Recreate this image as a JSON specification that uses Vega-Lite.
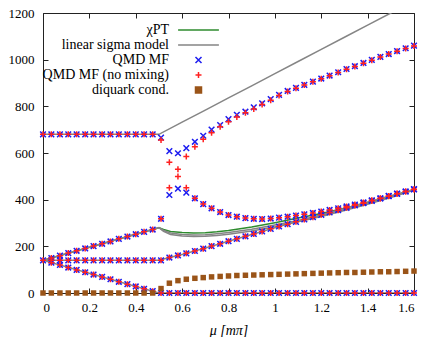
{
"$schema": "https://vega.github.io/schema/vega-lite/v6.json",
"width": 371, "height": 280,
"autosize": "none",
"padding": {"left": 43, "top": 13, "right": 12, "bottom": 44},
"config": {
  "view": {"stroke": "#222", "strokeWidth": 1},
  "font": "Liberation Serif, Times New Roman, serif",
  "axis": {"grid": false, "domain": false, "tickColor": "#222", "tickSize": -5, "tickWidth": 1, "labelFont": "Liberation Serif, Times New Roman, serif", "labelFontSize": 13, "labelColor": "#000", "titleFont": "Liberation Serif, Times New Roman, serif", "titleColor": "#000", "titleFontWeight": "normal"},
  "legend": {"labelFont": "Liberation Serif, Times New Roman, serif"}
},
"datasets": {
  "lsm": [
    {"s":"linear sigma model","b":"t","mu":0,"v":680},{"s":"linear sigma model","b":"t","mu":0.5,"v":680},{"s":"linear sigma model","b":"t","mu":0.6,"v":732},{"s":"linear sigma model","b":"t","mu":0.7,"v":784},{"s":"linear sigma model","b":"t","mu":0.8,"v":836},{"s":"linear sigma model","b":"t","mu":0.9,"v":888},{"s":"linear sigma model","b":"t","mu":1.0,"v":940},{"s":"linear sigma model","b":"t","mu":1.1,"v":992},{"s":"linear sigma model","b":"t","mu":1.2,"v":1044},{"s":"linear sigma model","b":"t","mu":1.3,"v":1096},{"s":"linear sigma model","b":"t","mu":1.4,"v":1148},{"s":"linear sigma model","b":"t","mu":1.5,"v":1200},{"s":"linear sigma model","b":"t","mu":1.6,"v":1252},
    {"s":"linear sigma model","b":"m","mu":0,"v":140},{"s":"linear sigma model","b":"m","mu":0.5,"v":140},{"s":"linear sigma model","b":"m","mu":0.55,"v":153},{"s":"linear sigma model","b":"m","mu":0.6,"v":165},{"s":"linear sigma model","b":"m","mu":0.65,"v":179},{"s":"linear sigma model","b":"m","mu":0.7,"v":193},{"s":"linear sigma model","b":"m","mu":0.8,"v":222},{"s":"linear sigma model","b":"m","mu":0.9,"v":251},{"s":"linear sigma model","b":"m","mu":1.0,"v":280},{"s":"linear sigma model","b":"m","mu":1.1,"v":308},{"s":"linear sigma model","b":"m","mu":1.2,"v":335},{"s":"linear sigma model","b":"m","mu":1.3,"v":362},{"s":"linear sigma model","b":"m","mu":1.4,"v":390},{"s":"linear sigma model","b":"m","mu":1.5,"v":417},{"s":"linear sigma model","b":"m","mu":1.6,"v":444},
    {"s":"linear sigma model","b":"r1","mu":0,"v":140},{"s":"linear sigma model","b":"r1","mu":0.5,"v":280},{"s":"linear sigma model","b":"r1","mu":0.52,"v":268},{"s":"linear sigma model","b":"r1","mu":0.55,"v":257},{"s":"linear sigma model","b":"r1","mu":0.6,"v":251},{"s":"linear sigma model","b":"r1","mu":0.65,"v":249},{"s":"linear sigma model","b":"r1","mu":0.7,"v":250},{"s":"linear sigma model","b":"r1","mu":0.75,"v":254},{"s":"linear sigma model","b":"r1","mu":0.8,"v":259},{"s":"linear sigma model","b":"r1","mu":0.9,"v":273},{"s":"linear sigma model","b":"r1","mu":1.0,"v":291},{"s":"linear sigma model","b":"r1","mu":1.1,"v":311},{"s":"linear sigma model","b":"r1","mu":1.2,"v":333},{"s":"linear sigma model","b":"r1","mu":1.3,"v":357},{"s":"linear sigma model","b":"r1","mu":1.4,"v":383},{"s":"linear sigma model","b":"r1","mu":1.5,"v":412},{"s":"linear sigma model","b":"r1","mu":1.6,"v":443},
    {"s":"linear sigma model","b":"r2","mu":0.5,"v":280},{"s":"linear sigma model","b":"r2","mu":0.52,"v":264},{"s":"linear sigma model","b":"r2","mu":0.55,"v":251},{"s":"linear sigma model","b":"r2","mu":0.6,"v":244},{"s":"linear sigma model","b":"r2","mu":0.65,"v":242},{"s":"linear sigma model","b":"r2","mu":0.7,"v":243},{"s":"linear sigma model","b":"r2","mu":0.75,"v":246},{"s":"linear sigma model","b":"r2","mu":0.8,"v":252},{"s":"linear sigma model","b":"r2","mu":0.9,"v":266},{"s":"linear sigma model","b":"r2","mu":1.0,"v":284},{"s":"linear sigma model","b":"r2","mu":1.1,"v":305},{"s":"linear sigma model","b":"r2","mu":1.2,"v":328},{"s":"linear sigma model","b":"r2","mu":1.3,"v":353},{"s":"linear sigma model","b":"r2","mu":1.4,"v":380},{"s":"linear sigma model","b":"r2","mu":1.5,"v":409},{"s":"linear sigma model","b":"r2","mu":1.6,"v":441},
    {"s":"linear sigma model","b":"f","mu":0,"v":140},{"s":"linear sigma model","b":"f","mu":0.5,"v":0},{"s":"linear sigma model","b":"f","mu":1.6,"v":0}
  ],
  "chpt": [
    {"s":"χPT","b":"r","mu":0,"v":140},{"s":"χPT","b":"r","mu":0.5,"v":280},{"s":"χPT","b":"r","mu":0.52,"v":272},{"s":"χPT","b":"r","mu":0.55,"v":264},{"s":"χPT","b":"r","mu":0.6,"v":259},{"s":"χPT","b":"r","mu":0.65,"v":257},{"s":"χPT","b":"r","mu":0.7,"v":258},{"s":"χPT","b":"r","mu":0.75,"v":262},{"s":"χPT","b":"r","mu":0.8,"v":268},{"s":"χPT","b":"r","mu":0.9,"v":283},{"s":"χPT","b":"r","mu":1.0,"v":301},{"s":"χPT","b":"r","mu":1.1,"v":321},{"s":"χPT","b":"r","mu":1.2,"v":341},{"s":"χPT","b":"r","mu":1.3,"v":363},{"s":"χPT","b":"r","mu":1.4,"v":387},{"s":"χPT","b":"r","mu":1.5,"v":414},{"s":"χPT","b":"r","mu":1.6,"v":444}
  ],
  "qmd": [
    {"s":"QMD MF","mu":0,"v":680},{"s":"QMD MF","mu":0,"v":140},
    {"s":"QMD MF","mu":0.036,"v":680},{"s":"QMD MF","mu":0.036,"v":150},{"s":"QMD MF","mu":0.036,"v":140},{"s":"QMD MF","mu":0.036,"v":130},
    {"s":"QMD MF","mu":0.073,"v":680},{"s":"QMD MF","mu":0.073,"v":160},{"s":"QMD MF","mu":0.073,"v":140},{"s":"QMD MF","mu":0.073,"v":120},
    {"s":"QMD MF","mu":0.109,"v":680},{"s":"QMD MF","mu":0.109,"v":171},{"s":"QMD MF","mu":0.109,"v":140},{"s":"QMD MF","mu":0.109,"v":109},
    {"s":"QMD MF","mu":0.145,"v":680},{"s":"QMD MF","mu":0.145,"v":181},{"s":"QMD MF","mu":0.145,"v":140},{"s":"QMD MF","mu":0.145,"v":99},
    {"s":"QMD MF","mu":0.182,"v":680},{"s":"QMD MF","mu":0.182,"v":191},{"s":"QMD MF","mu":0.182,"v":140},{"s":"QMD MF","mu":0.182,"v":89},
    {"s":"QMD MF","mu":0.218,"v":680},{"s":"QMD MF","mu":0.218,"v":201},{"s":"QMD MF","mu":0.218,"v":140},{"s":"QMD MF","mu":0.218,"v":79},
    {"s":"QMD MF","mu":0.255,"v":680},{"s":"QMD MF","mu":0.255,"v":211},{"s":"QMD MF","mu":0.255,"v":140},{"s":"QMD MF","mu":0.255,"v":69},
    {"s":"QMD MF","mu":0.291,"v":680},{"s":"QMD MF","mu":0.291,"v":221},{"s":"QMD MF","mu":0.291,"v":140},{"s":"QMD MF","mu":0.291,"v":59},
    {"s":"QMD MF","mu":0.327,"v":680},{"s":"QMD MF","mu":0.327,"v":232},{"s":"QMD MF","mu":0.327,"v":140},{"s":"QMD MF","mu":0.327,"v":48},
    {"s":"QMD MF","mu":0.364,"v":680},{"s":"QMD MF","mu":0.364,"v":242},{"s":"QMD MF","mu":0.364,"v":140},{"s":"QMD MF","mu":0.364,"v":38},
    {"s":"QMD MF","mu":0.4,"v":680},{"s":"QMD MF","mu":0.4,"v":252},{"s":"QMD MF","mu":0.4,"v":140},{"s":"QMD MF","mu":0.4,"v":28},
    {"s":"QMD MF","mu":0.436,"v":680},{"s":"QMD MF","mu":0.436,"v":262},{"s":"QMD MF","mu":0.436,"v":140},{"s":"QMD MF","mu":0.436,"v":18},
    {"s":"QMD MF","mu":0.473,"v":680},{"s":"QMD MF","mu":0.473,"v":272},{"s":"QMD MF","mu":0.473,"v":140},{"s":"QMD MF","mu":0.473,"v":8},
    {"s":"QMD MF","mu":0.509,"v":666},{"s":"QMD MF","mu":0.509,"v":318},{"s":"QMD MF","mu":0.509,"v":140},{"s":"QMD MF","mu":0.509,"v":0},
    {"s":"QMD MF","mu":0.545,"v":608},{"s":"QMD MF","mu":0.545,"v":420},{"s":"QMD MF","mu":0.545,"v":152},{"s":"QMD MF","mu":0.545,"v":0},
    {"s":"QMD MF","mu":0.582,"v":599},{"s":"QMD MF","mu":0.582,"v":447},{"s":"QMD MF","mu":0.582,"v":161},{"s":"QMD MF","mu":0.582,"v":0},
    {"s":"QMD MF","mu":0.618,"v":621},{"s":"QMD MF","mu":0.618,"v":430},{"s":"QMD MF","mu":0.618,"v":170},{"s":"QMD MF","mu":0.618,"v":0},
    {"s":"QMD MF","mu":0.655,"v":648},{"s":"QMD MF","mu":0.655,"v":406},{"s":"QMD MF","mu":0.655,"v":180},{"s":"QMD MF","mu":0.655,"v":0},
    {"s":"QMD MF","mu":0.691,"v":674},{"s":"QMD MF","mu":0.691,"v":381},{"s":"QMD MF","mu":0.691,"v":190},{"s":"QMD MF","mu":0.691,"v":0},
    {"s":"QMD MF","mu":0.727,"v":700},{"s":"QMD MF","mu":0.727,"v":363},{"s":"QMD MF","mu":0.727,"v":201},{"s":"QMD MF","mu":0.727,"v":0},
    {"s":"QMD MF","mu":0.764,"v":720},{"s":"QMD MF","mu":0.764,"v":347},{"s":"QMD MF","mu":0.764,"v":211},{"s":"QMD MF","mu":0.764,"v":0},
    {"s":"QMD MF","mu":0.8,"v":745},{"s":"QMD MF","mu":0.8,"v":334},{"s":"QMD MF","mu":0.8,"v":222},{"s":"QMD MF","mu":0.8,"v":0},
    {"s":"QMD MF","mu":0.836,"v":764},{"s":"QMD MF","mu":0.836,"v":327},{"s":"QMD MF","mu":0.836,"v":232},{"s":"QMD MF","mu":0.836,"v":0},
    {"s":"QMD MF","mu":0.873,"v":777},{"s":"QMD MF","mu":0.873,"v":321},{"s":"QMD MF","mu":0.873,"v":243},{"s":"QMD MF","mu":0.873,"v":0},
    {"s":"QMD MF","mu":0.909,"v":796},{"s":"QMD MF","mu":0.909,"v":318},{"s":"QMD MF","mu":0.909,"v":253},{"s":"QMD MF","mu":0.909,"v":0},
    {"s":"QMD MF","mu":0.945,"v":813},{"s":"QMD MF","mu":0.945,"v":317},{"s":"QMD MF","mu":0.945,"v":264},{"s":"QMD MF","mu":0.945,"v":0},
    {"s":"QMD MF","mu":0.982,"v":831},{"s":"QMD MF","mu":0.982,"v":319},{"s":"QMD MF","mu":0.982,"v":275},{"s":"QMD MF","mu":0.982,"v":0},
    {"s":"QMD MF","mu":1.018,"v":849},{"s":"QMD MF","mu":1.018,"v":323},{"s":"QMD MF","mu":1.018,"v":285},{"s":"QMD MF","mu":1.018,"v":0},
    {"s":"QMD MF","mu":1.055,"v":866},{"s":"QMD MF","mu":1.055,"v":327},{"s":"QMD MF","mu":1.055,"v":295},{"s":"QMD MF","mu":1.055,"v":0},
    {"s":"QMD MF","mu":1.091,"v":879},{"s":"QMD MF","mu":1.091,"v":332},{"s":"QMD MF","mu":1.091,"v":305},{"s":"QMD MF","mu":1.091,"v":0},
    {"s":"QMD MF","mu":1.127,"v":892},{"s":"QMD MF","mu":1.127,"v":337},{"s":"QMD MF","mu":1.127,"v":315},{"s":"QMD MF","mu":1.127,"v":0},
    {"s":"QMD MF","mu":1.164,"v":906},{"s":"QMD MF","mu":1.164,"v":343},{"s":"QMD MF","mu":1.164,"v":325},{"s":"QMD MF","mu":1.164,"v":0},
    {"s":"QMD MF","mu":1.2,"v":919},{"s":"QMD MF","mu":1.2,"v":349},{"s":"QMD MF","mu":1.2,"v":335},{"s":"QMD MF","mu":1.2,"v":0},
    {"s":"QMD MF","mu":1.236,"v":932},{"s":"QMD MF","mu":1.236,"v":356},{"s":"QMD MF","mu":1.236,"v":345},{"s":"QMD MF","mu":1.236,"v":0},
    {"s":"QMD MF","mu":1.273,"v":946},{"s":"QMD MF","mu":1.273,"v":363},{"s":"QMD MF","mu":1.273,"v":355},{"s":"QMD MF","mu":1.273,"v":0},
    {"s":"QMD MF","mu":1.309,"v":960},{"s":"QMD MF","mu":1.309,"v":371},{"s":"QMD MF","mu":1.309,"v":365},{"s":"QMD MF","mu":1.309,"v":0},
    {"s":"QMD MF","mu":1.345,"v":972},{"s":"QMD MF","mu":1.345,"v":379},{"s":"QMD MF","mu":1.345,"v":375},{"s":"QMD MF","mu":1.345,"v":0},
    {"s":"QMD MF","mu":1.382,"v":986},{"s":"QMD MF","mu":1.382,"v":388},{"s":"QMD MF","mu":1.382,"v":385},{"s":"QMD MF","mu":1.382,"v":0},
    {"s":"QMD MF","mu":1.418,"v":999},{"s":"QMD MF","mu":1.418,"v":397},{"s":"QMD MF","mu":1.418,"v":395},{"s":"QMD MF","mu":1.418,"v":0},
    {"s":"QMD MF","mu":1.455,"v":1012},{"s":"QMD MF","mu":1.455,"v":406},{"s":"QMD MF","mu":1.455,"v":405},{"s":"QMD MF","mu":1.455,"v":0},
    {"s":"QMD MF","mu":1.491,"v":1024},{"s":"QMD MF","mu":1.491,"v":416},{"s":"QMD MF","mu":1.491,"v":415},{"s":"QMD MF","mu":1.491,"v":0},
    {"s":"QMD MF","mu":1.527,"v":1037},{"s":"QMD MF","mu":1.527,"v":426},{"s":"QMD MF","mu":1.527,"v":425},{"s":"QMD MF","mu":1.527,"v":0},
    {"s":"QMD MF","mu":1.564,"v":1049},{"s":"QMD MF","mu":1.564,"v":435},{"s":"QMD MF","mu":1.564,"v":435},{"s":"QMD MF","mu":1.564,"v":0},
    {"s":"QMD MF","mu":1.6,"v":1060},{"s":"QMD MF","mu":1.6,"v":445},{"s":"QMD MF","mu":1.6,"v":444},{"s":"QMD MF","mu":1.6,"v":0}
  ],
  "qmdnm": [
    {"s":"QMD MF (no mixing)","mu":0,"v":680},{"s":"QMD MF (no mixing)","mu":0,"v":140},
    {"s":"QMD MF (no mixing)","mu":0.036,"v":680},{"s":"QMD MF (no mixing)","mu":0.036,"v":150},{"s":"QMD MF (no mixing)","mu":0.036,"v":140},{"s":"QMD MF (no mixing)","mu":0.036,"v":130},
    {"s":"QMD MF (no mixing)","mu":0.073,"v":680},{"s":"QMD MF (no mixing)","mu":0.073,"v":160},{"s":"QMD MF (no mixing)","mu":0.073,"v":140},{"s":"QMD MF (no mixing)","mu":0.073,"v":120},
    {"s":"QMD MF (no mixing)","mu":0.109,"v":680},{"s":"QMD MF (no mixing)","mu":0.109,"v":171},{"s":"QMD MF (no mixing)","mu":0.109,"v":140},{"s":"QMD MF (no mixing)","mu":0.109,"v":109},
    {"s":"QMD MF (no mixing)","mu":0.145,"v":680},{"s":"QMD MF (no mixing)","mu":0.145,"v":181},{"s":"QMD MF (no mixing)","mu":0.145,"v":140},{"s":"QMD MF (no mixing)","mu":0.145,"v":99},
    {"s":"QMD MF (no mixing)","mu":0.182,"v":680},{"s":"QMD MF (no mixing)","mu":0.182,"v":191},{"s":"QMD MF (no mixing)","mu":0.182,"v":140},{"s":"QMD MF (no mixing)","mu":0.182,"v":89},
    {"s":"QMD MF (no mixing)","mu":0.218,"v":680},{"s":"QMD MF (no mixing)","mu":0.218,"v":201},{"s":"QMD MF (no mixing)","mu":0.218,"v":140},{"s":"QMD MF (no mixing)","mu":0.218,"v":79},
    {"s":"QMD MF (no mixing)","mu":0.255,"v":680},{"s":"QMD MF (no mixing)","mu":0.255,"v":211},{"s":"QMD MF (no mixing)","mu":0.255,"v":140},{"s":"QMD MF (no mixing)","mu":0.255,"v":69},
    {"s":"QMD MF (no mixing)","mu":0.291,"v":680},{"s":"QMD MF (no mixing)","mu":0.291,"v":221},{"s":"QMD MF (no mixing)","mu":0.291,"v":140},{"s":"QMD MF (no mixing)","mu":0.291,"v":59},
    {"s":"QMD MF (no mixing)","mu":0.327,"v":680},{"s":"QMD MF (no mixing)","mu":0.327,"v":232},{"s":"QMD MF (no mixing)","mu":0.327,"v":140},{"s":"QMD MF (no mixing)","mu":0.327,"v":48},
    {"s":"QMD MF (no mixing)","mu":0.364,"v":680},{"s":"QMD MF (no mixing)","mu":0.364,"v":242},{"s":"QMD MF (no mixing)","mu":0.364,"v":140},{"s":"QMD MF (no mixing)","mu":0.364,"v":38},
    {"s":"QMD MF (no mixing)","mu":0.4,"v":680},{"s":"QMD MF (no mixing)","mu":0.4,"v":252},{"s":"QMD MF (no mixing)","mu":0.4,"v":140},{"s":"QMD MF (no mixing)","mu":0.4,"v":28},
    {"s":"QMD MF (no mixing)","mu":0.436,"v":680},{"s":"QMD MF (no mixing)","mu":0.436,"v":262},{"s":"QMD MF (no mixing)","mu":0.436,"v":140},{"s":"QMD MF (no mixing)","mu":0.436,"v":18},
    {"s":"QMD MF (no mixing)","mu":0.473,"v":680},{"s":"QMD MF (no mixing)","mu":0.473,"v":272},{"s":"QMD MF (no mixing)","mu":0.473,"v":140},{"s":"QMD MF (no mixing)","mu":0.473,"v":8},
    {"s":"QMD MF (no mixing)","mu":0.509,"v":656},{"s":"QMD MF (no mixing)","mu":0.509,"v":318},{"s":"QMD MF (no mixing)","mu":0.509,"v":140},{"s":"QMD MF (no mixing)","mu":0.509,"v":0},
    {"s":"QMD MF (no mixing)","mu":0.545,"v":560},{"s":"QMD MF (no mixing)","mu":0.545,"v":451},{"s":"QMD MF (no mixing)","mu":0.545,"v":152},{"s":"QMD MF (no mixing)","mu":0.545,"v":0},
    {"s":"QMD MF (no mixing)","mu":0.582,"v":530},{"s":"QMD MF (no mixing)","mu":0.582,"v":499},{"s":"QMD MF (no mixing)","mu":0.582,"v":161},{"s":"QMD MF (no mixing)","mu":0.582,"v":0},
    {"s":"QMD MF (no mixing)","mu":0.618,"v":585},{"s":"QMD MF (no mixing)","mu":0.618,"v":451},{"s":"QMD MF (no mixing)","mu":0.618,"v":170},{"s":"QMD MF (no mixing)","mu":0.618,"v":0},
    {"s":"QMD MF (no mixing)","mu":0.655,"v":627},{"s":"QMD MF (no mixing)","mu":0.655,"v":406},{"s":"QMD MF (no mixing)","mu":0.655,"v":180},{"s":"QMD MF (no mixing)","mu":0.655,"v":0},
    {"s":"QMD MF (no mixing)","mu":0.691,"v":659},{"s":"QMD MF (no mixing)","mu":0.691,"v":381},{"s":"QMD MF (no mixing)","mu":0.691,"v":190},{"s":"QMD MF (no mixing)","mu":0.691,"v":0},
    {"s":"QMD MF (no mixing)","mu":0.727,"v":687},{"s":"QMD MF (no mixing)","mu":0.727,"v":363},{"s":"QMD MF (no mixing)","mu":0.727,"v":201},{"s":"QMD MF (no mixing)","mu":0.727,"v":0},
    {"s":"QMD MF (no mixing)","mu":0.764,"v":712},{"s":"QMD MF (no mixing)","mu":0.764,"v":347},{"s":"QMD MF (no mixing)","mu":0.764,"v":211},{"s":"QMD MF (no mixing)","mu":0.764,"v":0},
    {"s":"QMD MF (no mixing)","mu":0.8,"v":734},{"s":"QMD MF (no mixing)","mu":0.8,"v":334},{"s":"QMD MF (no mixing)","mu":0.8,"v":222},{"s":"QMD MF (no mixing)","mu":0.8,"v":0},
    {"s":"QMD MF (no mixing)","mu":0.836,"v":754},{"s":"QMD MF (no mixing)","mu":0.836,"v":327},{"s":"QMD MF (no mixing)","mu":0.836,"v":232},{"s":"QMD MF (no mixing)","mu":0.836,"v":0},
    {"s":"QMD MF (no mixing)","mu":0.873,"v":772},{"s":"QMD MF (no mixing)","mu":0.873,"v":321},{"s":"QMD MF (no mixing)","mu":0.873,"v":243},{"s":"QMD MF (no mixing)","mu":0.873,"v":0},
    {"s":"QMD MF (no mixing)","mu":0.909,"v":789},{"s":"QMD MF (no mixing)","mu":0.909,"v":318},{"s":"QMD MF (no mixing)","mu":0.909,"v":253},{"s":"QMD MF (no mixing)","mu":0.909,"v":0},
    {"s":"QMD MF (no mixing)","mu":0.945,"v":808},{"s":"QMD MF (no mixing)","mu":0.945,"v":317},{"s":"QMD MF (no mixing)","mu":0.945,"v":264},{"s":"QMD MF (no mixing)","mu":0.945,"v":0},
    {"s":"QMD MF (no mixing)","mu":0.982,"v":826},{"s":"QMD MF (no mixing)","mu":0.982,"v":319},{"s":"QMD MF (no mixing)","mu":0.982,"v":275},{"s":"QMD MF (no mixing)","mu":0.982,"v":0},
    {"s":"QMD MF (no mixing)","mu":1.018,"v":846},{"s":"QMD MF (no mixing)","mu":1.018,"v":323},{"s":"QMD MF (no mixing)","mu":1.018,"v":285},{"s":"QMD MF (no mixing)","mu":1.018,"v":0},
    {"s":"QMD MF (no mixing)","mu":1.055,"v":864},{"s":"QMD MF (no mixing)","mu":1.055,"v":327},{"s":"QMD MF (no mixing)","mu":1.055,"v":295},{"s":"QMD MF (no mixing)","mu":1.055,"v":0},
    {"s":"QMD MF (no mixing)","mu":1.091,"v":878},{"s":"QMD MF (no mixing)","mu":1.091,"v":332},{"s":"QMD MF (no mixing)","mu":1.091,"v":305},{"s":"QMD MF (no mixing)","mu":1.091,"v":0},
    {"s":"QMD MF (no mixing)","mu":1.127,"v":891},{"s":"QMD MF (no mixing)","mu":1.127,"v":337},{"s":"QMD MF (no mixing)","mu":1.127,"v":315},{"s":"QMD MF (no mixing)","mu":1.127,"v":0},
    {"s":"QMD MF (no mixing)","mu":1.164,"v":905},{"s":"QMD MF (no mixing)","mu":1.164,"v":343},{"s":"QMD MF (no mixing)","mu":1.164,"v":325},{"s":"QMD MF (no mixing)","mu":1.164,"v":0},
    {"s":"QMD MF (no mixing)","mu":1.2,"v":918},{"s":"QMD MF (no mixing)","mu":1.2,"v":349},{"s":"QMD MF (no mixing)","mu":1.2,"v":335},{"s":"QMD MF (no mixing)","mu":1.2,"v":0},
    {"s":"QMD MF (no mixing)","mu":1.236,"v":931},{"s":"QMD MF (no mixing)","mu":1.236,"v":356},{"s":"QMD MF (no mixing)","mu":1.236,"v":345},{"s":"QMD MF (no mixing)","mu":1.236,"v":0},
    {"s":"QMD MF (no mixing)","mu":1.273,"v":945},{"s":"QMD MF (no mixing)","mu":1.273,"v":363},{"s":"QMD MF (no mixing)","mu":1.273,"v":355},{"s":"QMD MF (no mixing)","mu":1.273,"v":0},
    {"s":"QMD MF (no mixing)","mu":1.309,"v":959},{"s":"QMD MF (no mixing)","mu":1.309,"v":371},{"s":"QMD MF (no mixing)","mu":1.309,"v":365},{"s":"QMD MF (no mixing)","mu":1.309,"v":0},
    {"s":"QMD MF (no mixing)","mu":1.345,"v":971},{"s":"QMD MF (no mixing)","mu":1.345,"v":379},{"s":"QMD MF (no mixing)","mu":1.345,"v":375},{"s":"QMD MF (no mixing)","mu":1.345,"v":0},
    {"s":"QMD MF (no mixing)","mu":1.382,"v":985},{"s":"QMD MF (no mixing)","mu":1.382,"v":388},{"s":"QMD MF (no mixing)","mu":1.382,"v":385},{"s":"QMD MF (no mixing)","mu":1.382,"v":0},
    {"s":"QMD MF (no mixing)","mu":1.418,"v":998},{"s":"QMD MF (no mixing)","mu":1.418,"v":397},{"s":"QMD MF (no mixing)","mu":1.418,"v":395},{"s":"QMD MF (no mixing)","mu":1.418,"v":0},
    {"s":"QMD MF (no mixing)","mu":1.455,"v":1011},{"s":"QMD MF (no mixing)","mu":1.455,"v":406},{"s":"QMD MF (no mixing)","mu":1.455,"v":405},{"s":"QMD MF (no mixing)","mu":1.455,"v":0},
    {"s":"QMD MF (no mixing)","mu":1.491,"v":1024},{"s":"QMD MF (no mixing)","mu":1.491,"v":416},{"s":"QMD MF (no mixing)","mu":1.491,"v":415},{"s":"QMD MF (no mixing)","mu":1.491,"v":0},
    {"s":"QMD MF (no mixing)","mu":1.527,"v":1036},{"s":"QMD MF (no mixing)","mu":1.527,"v":426},{"s":"QMD MF (no mixing)","mu":1.527,"v":425},{"s":"QMD MF (no mixing)","mu":1.527,"v":0},
    {"s":"QMD MF (no mixing)","mu":1.564,"v":1048},{"s":"QMD MF (no mixing)","mu":1.564,"v":435},{"s":"QMD MF (no mixing)","mu":1.564,"v":435},{"s":"QMD MF (no mixing)","mu":1.564,"v":0},
    {"s":"QMD MF (no mixing)","mu":1.6,"v":1059},{"s":"QMD MF (no mixing)","mu":1.6,"v":445},{"s":"QMD MF (no mixing)","mu":1.6,"v":444},{"s":"QMD MF (no mixing)","mu":1.6,"v":0}
  ],
  "diq": [
    {"s":"diquark cond.","mu":0,"v":0},{"s":"diquark cond.","mu":0.036,"v":0},{"s":"diquark cond.","mu":0.073,"v":0},{"s":"diquark cond.","mu":0.109,"v":0},{"s":"diquark cond.","mu":0.145,"v":0},{"s":"diquark cond.","mu":0.182,"v":0},{"s":"diquark cond.","mu":0.218,"v":0},{"s":"diquark cond.","mu":0.255,"v":0},{"s":"diquark cond.","mu":0.291,"v":0},{"s":"diquark cond.","mu":0.327,"v":0},{"s":"diquark cond.","mu":0.364,"v":0},{"s":"diquark cond.","mu":0.4,"v":0},{"s":"diquark cond.","mu":0.436,"v":0},{"s":"diquark cond.","mu":0.473,"v":0},
    {"s":"diquark cond.","mu":0.509,"v":19},{"s":"diquark cond.","mu":0.545,"v":42},{"s":"diquark cond.","mu":0.582,"v":53},{"s":"diquark cond.","mu":0.618,"v":59},{"s":"diquark cond.","mu":0.655,"v":63},{"s":"diquark cond.","mu":0.691,"v":66},{"s":"diquark cond.","mu":0.727,"v":69},{"s":"diquark cond.","mu":0.764,"v":71},{"s":"diquark cond.","mu":0.8,"v":73},{"s":"diquark cond.","mu":0.836,"v":75},{"s":"diquark cond.","mu":0.873,"v":76},{"s":"diquark cond.","mu":0.909,"v":77},{"s":"diquark cond.","mu":0.945,"v":78},{"s":"diquark cond.","mu":0.982,"v":79},{"s":"diquark cond.","mu":1.018,"v":80},{"s":"diquark cond.","mu":1.055,"v":81},{"s":"diquark cond.","mu":1.091,"v":82},{"s":"diquark cond.","mu":1.127,"v":83},{"s":"diquark cond.","mu":1.164,"v":84},{"s":"diquark cond.","mu":1.2,"v":85},{"s":"diquark cond.","mu":1.236,"v":86},{"s":"diquark cond.","mu":1.273,"v":87},{"s":"diquark cond.","mu":1.309,"v":88},{"s":"diquark cond.","mu":1.345,"v":88},{"s":"diquark cond.","mu":1.382,"v":89},{"s":"diquark cond.","mu":1.418,"v":90},{"s":"diquark cond.","mu":1.455,"v":91},{"s":"diquark cond.","mu":1.491,"v":91},{"s":"diquark cond.","mu":1.527,"v":92},{"s":"diquark cond.","mu":1.564,"v":93},{"s":"diquark cond.","mu":1.6,"v":94}
  ],
  "ax": [{"mu":0,"v":0}]
},
"layer": [
  {
    "layer": [
      {
        "data": {"name": "chpt"},
        "mark": {"type": "line", "strokeWidth": 1.5, "clip": true},
        "encoding": {
          "x": {"field": "mu", "type": "quantitative", "scale": {"domain": [0, 1.6], "nice": false, "zero": false}, "axis": {"orient": "bottom", "values": [0,0.2,0.4,0.6,0.8,1,1.2,1.4,1.6], "format": ".1~f", "labelPadding": 13, "labelFontSize": 13, "labelColor": "#000", "title": "μ [mπ]", "titleFontSize": 14, "titleFontStyle": "italic", "titleFontWeight": "normal", "titlePadding": 9, "labelOverlap": false}},
          "y": {"field": "v", "type": "quantitative", "scale": {"domain": [0, 1200], "nice": false}, "axis": {"orient": "left", "values": [0,200,400,600,800,1000,1200], "format": "d", "labelPadding": 14, "labelFontSize": 13, "labelColor": "#000", "title": null, "labelOverlap": false}},
          "detail": {"field": "b"},
          "color": {"field": "s", "type": "nominal",
            "scale": {"domain": ["χPT","linear sigma model","QMD MF","QMD MF (no mixing)","diquark cond."], "range": ["#2e8b2e","#858585","#1c1cf0","#ff2020","#9a5418"]},
            "legend": {"title": null, "orient": "none", "legendX": 148.5, "legendY": 10, "padding": 0, "labelAlign": "right", "labelOffset": -36.5, "labelFontSize": 14, "labelColor": "#000", "labelLimit": 300, "symbolSize": 36, "rowPadding": 1,
              "encode": {"symbols": {"update": {"fill": {"scale": "color", "field": "value"}, "stroke": {"scale": "color", "field": "value"}, "strokeWidth": {"value": 1.5}, "size": {"value": 36}, "opacity": {"value": 1}}}}}
          }
        }
      },
      {
        "data": {"name": "lsm"},
        "mark": {"type": "line", "strokeWidth": 1.5, "clip": true},
        "encoding": {
          "x": {"field": "mu", "type": "quantitative"},
          "y": {"field": "v", "type": "quantitative"},
          "detail": {"field": "b"},
          "color": {"field": "s", "type": "nominal"}
        }
      },
      {
        "data": {"name": "qmd"},
        "mark": {"type": "point", "filled": false, "strokeWidth": 1.5, "size": 32, "opacity": 1},
        "encoding": {
          "x": {"field": "mu", "type": "quantitative"},
          "y": {"field": "v", "type": "quantitative"},
          "color": {"field": "s", "type": "nominal"},
          "shape": {"field": "s", "type": "nominal",
            "scale": {"domain": ["χPT","linear sigma model","QMD MF","QMD MF (no mixing)","diquark cond."], "range": ["M-6.8,0L6.8,0","M-6.8,0L6.8,0","M-1,-1L1,1M-1,1L1,-1","M-1,0L1,0M0,-1L0,1","square"]},
            "legend": {"title": null, "orient": "none", "legendX": 148.5, "legendY": 10, "padding": 0, "labelAlign": "right", "labelOffset": -36.5, "labelFontSize": 14, "labelColor": "#000", "labelLimit": 300, "symbolSize": 36, "rowPadding": 1,
              "encode": {"symbols": {"update": {"fill": {"scale": "color", "field": "value"}, "stroke": {"scale": "color", "field": "value"}, "strokeWidth": {"value": 1.5}, "size": {"value": 36}, "opacity": {"value": 1}}}}}
          }
        }
      },
      {
        "data": {"name": "qmdnm"},
        "mark": {"type": "point", "filled": false, "strokeWidth": 1.5, "size": 36, "opacity": 1},
        "encoding": {
          "x": {"field": "mu", "type": "quantitative"},
          "y": {"field": "v", "type": "quantitative"},
          "color": {"field": "s", "type": "nominal"},
          "shape": {"field": "s", "type": "nominal"}
        }
      },
      {
        "data": {"name": "diq"},
        "mark": {"type": "point", "filled": true, "size": 30, "opacity": 1},
        "encoding": {
          "x": {"field": "mu", "type": "quantitative"},
          "y": {"field": "v", "type": "quantitative"},
          "color": {"field": "s", "type": "nominal"},
          "shape": {"field": "s", "type": "nominal"}
        }
      }
    ]
  },
  {
    "data": {"name": "ax"},
    "mark": {"type": "point", "opacity": 0},
    "encoding": {
      "x": {"field": "mu", "type": "quantitative", "axis": {"orient": "top", "values": [0,0.2,0.4,0.6,0.8,1,1.2,1.4,1.6], "labels": false, "title": null}},
      "y": {"field": "v", "type": "quantitative", "axis": {"orient": "right", "values": [0,200,400,600,800,1000,1200], "labels": false, "title": null}}
    }
  }
],
"resolve": {"axis": {"x": "independent", "y": "independent"}}
}
